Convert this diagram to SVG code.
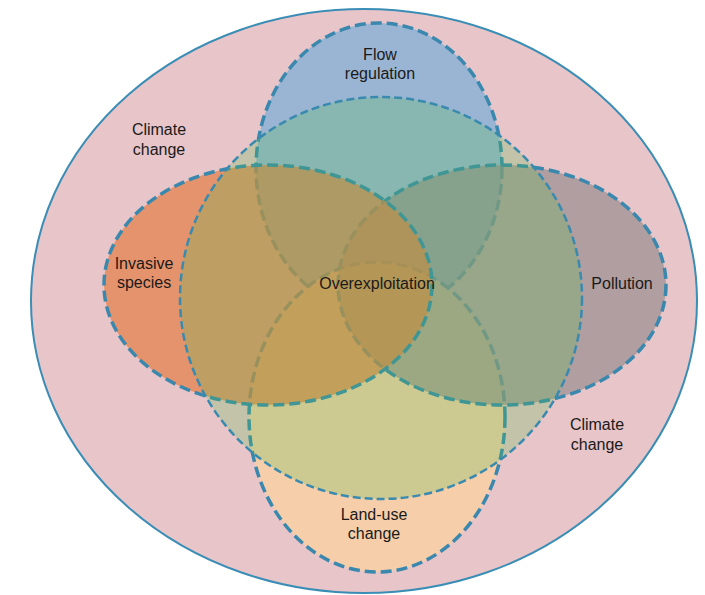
<svg xmlns="http://www.w3.org/2000/svg" width="705" height="595" viewBox="0 0 705 595">
  <style>
    .lbl { font-family: "Liberation Sans", Arial, sans-serif; font-size: 16px; fill: #1a1a1a; text-anchor: middle; }
    .set { stroke: #3a88ae; stroke-width: 3.5; stroke-dasharray: 11 5; }
    .core { fill: #50be46; fill-opacity: 0.25; stroke: #3a8ab0; stroke-width: 2.5; stroke-dasharray: 8 4; }
  </style>
  <rect width="705" height="595" fill="#ffffff"/>
  <g id="climate-change">
    <ellipse cx="364" cy="301" rx="333" ry="292" fill="#e8c5c9" stroke="#3a8db5" stroke-width="2"/>
    <text class="lbl" x="159" y="135">Climate</text>
    <text class="lbl" x="159" y="155">change</text>
    <text class="lbl" x="597" y="430">Climate</text>
    <text class="lbl" x="597" y="450">change</text>
  </g>
  <g id="flow-regulation">
    <ellipse class="set" cx="379" cy="168" rx="123" ry="145" fill="#9ab5d3"/>
    <text class="lbl" x="380" y="60">Flow</text>
    <text class="lbl" x="380" y="79">regulation</text>
  </g>
  <g id="land-use-change">
    <ellipse class="set" cx="377" cy="417" rx="128" ry="155" fill="#f6cea9"/>
    <text class="lbl" x="374" y="520">Land-use</text>
    <text class="lbl" x="374" y="539">change</text>
  </g>
  <g id="pollution">
    <ellipse class="set" cx="502" cy="285" rx="164" ry="120" fill="#988d8e" fill-opacity="0.7"/>
    <text class="lbl" x="622" y="289">Pollution</text>
  </g>
  <g id="invasive-species">
    <ellipse class="set" cx="268" cy="285" rx="164" ry="120" fill="#e47e44" fill-opacity="0.7"/>
    <text class="lbl" x="144" y="269">Invasive</text>
    <text class="lbl" x="144" y="288">species</text>
  </g>
  <g id="overexploitation">
    <circle class="core" cx="381" cy="298" r="201"/>
    <text class="lbl" x="377" y="289">Overexploitation</text>
  </g>
  <g id="connectors"></g>
</svg>
